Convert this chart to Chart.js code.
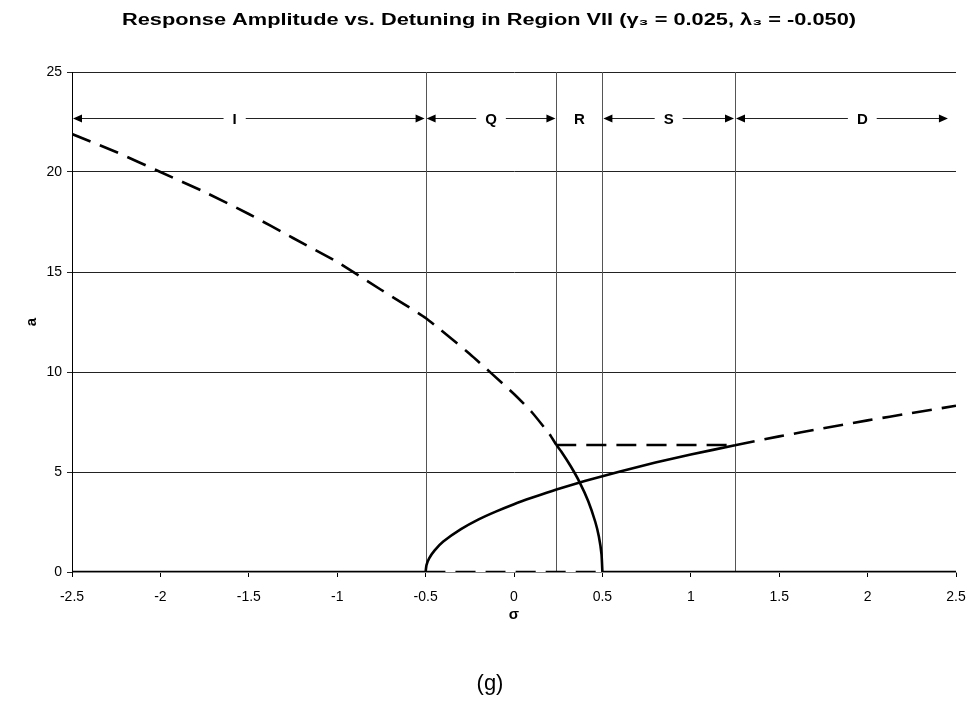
<!DOCTYPE html>
<html>
<head>
<meta charset="utf-8">
<script src="https://cdn.jsdelivr.net/npm/chart.js@4/dist/chart.umd.min.js"></script>
<style>
  html, body { margin: 0; padding: 0; background: #fff; }
  #wrap { width: 973px; height: 706px; }
</style>
</head>
<body>
<div id="wrap"><canvas id="chart"></canvas></div>
<script>
// --- Daten ---
// instabiler oberer Ast (gestrichelt)
const upperSigma = [-2.5, -2.25, -2.0, -1.75, -1.5, -1.25, -1.0, -0.75, -0.5, -0.25, 0, 0.1, 0.2, 0.24];
const upperA     = [21.9, 21.0, 20.0, 19.0, 17.9, 16.7, 15.5, 14.1, 12.7, 10.9, 8.9, 8.0, 6.9, 6.35];

// stabiler Ast ab sigma = -0.5 (durchgezogen)
const riseSigma = [-0.5, -0.495, -0.48, -0.45, -0.4, -0.3, -0.2, -0.1, 0, 0.1, 0.24, 0.4, 0.6, 0.8, 1.0, 1.25];
const riseA     = [0, 0.34, 0.68, 1.07, 1.52, 2.14, 2.63, 3.03, 3.39, 3.71, 4.13, 4.55, 5.03, 5.47, 5.87, 6.34];

// Fortsetzung rechts (gestrichelt)
const tailSigma = [1.25, 1.5, 1.75, 2.0, 2.25, 2.5];
const tailA     = [6.34, 6.78, 7.19, 7.58, 7.95, 8.31];

// abfallender Ast bis sigma = 0.5 (durchgezogen)
const fallSigma = [0.24, 0.27, 0.32, 0.37, 0.42, 0.46, 0.48, 0.495, 0.5];
const fallA     = [6.35, 5.99, 5.30, 4.51, 3.54, 2.5, 1.77, 0.88, 0];

// waagrechte Verbindung (gestrichelt)
const flatSigma = [0.24, 1.25];
const flatA     = [6.35, 6.35];

// triviale Loesung a = 0
const zeroLeftSigma  = [-2.5, -0.5];
const zeroMidSigma   = [-0.5, 0.5];
const zeroRightSigma = [0.5, 2.5];
const zeroA          = [0, 0];

// Bereiche oben
const regionBounds = [-2.5, -0.5, 0.24, 0.5, 1.25, 2.46];
const regionLines  = [-0.5, 0.24, 0.5, 1.25];
const regionNames  = ['I', 'Q', 'R', 'S', 'D'];
const regionLabelX = [-1.58, -0.13, 0.37, 0.875, 1.97];
const regionArrows = [true, true, false, true, true];
const regionLevel  = 22.7;

const xTicks = [-2.5, -2, -1.5, -1, -0.5, 0, 0.5, 1, 1.5, 2, 2.5];
const yTicks = [0, 5, 10, 15, 20, 25];

const titleText = 'Response Amplitude vs. Detuning in Region VII (\u03b3\u2083 = 0.025, \u03bb\u2083 = -0.050)';
const figLabel = '(g)';

const FONT = "'Liberation Sans', Arial, sans-serif";

function pts(xs, ys) {
    return xs.map((x, i) => ({ x: x, y: ys[i] }));
}

function line(xs, ys, dashed) {
    return {
        data: pts(xs, ys),
        showLine: true,
        borderColor: '#000',
        borderWidth: 2.6,
        borderDash: dashed ? [20, 10] : [],
        pointRadius: 0,
        tension: 0.15,
        fill: false
    };
}

// --- Bereichslinien, Pfeile, Titel ---
const regionPlugin = {
    id: 'regions',
    beforeDatasetsDraw(chart) {
        const { ctx, chartArea, scales } = chart;
        ctx.save();
        ctx.strokeStyle = '#555';
        ctx.lineWidth = 1;
        regionLines.forEach(v => {
            const x = Math.round(scales.x.getPixelForValue(v)) + 0.5;
            ctx.beginPath();
            ctx.moveTo(x, chartArea.top);
            ctx.lineTo(x, chartArea.bottom);
            ctx.stroke();
        });
        ctx.restore();
    },
    afterDatasetsDraw(chart) {
        const { ctx, scales } = chart;
        const y = Math.round(scales.y.getPixelForValue(regionLevel)) + 0.5;
        ctx.save();
        ctx.font = 'bold 15px ' + FONT;
        ctx.textAlign = 'center';
        ctx.textBaseline = 'middle';
        ctx.fillStyle = '#000';
        ctx.strokeStyle = '#222';
        ctx.lineWidth = 1;
        for (let i = 0; i < regionNames.length; i++) {
            const x0 = scales.x.getPixelForValue(regionBounds[i]);
            const x1 = scales.x.getPixelForValue(regionBounds[i + 1]);
            const xm = scales.x.getPixelForValue(regionLabelX[i]);
            ctx.fillText(regionNames[i], xm, y + 1);
            if (!regionArrows[i]) continue;
            const gap = ctx.measureText(regionNames[i]).width / 2 + 9;
            ctx.beginPath();
            ctx.moveTo(x0 + 8, y); ctx.lineTo(xm - gap, y);
            ctx.moveTo(xm + gap, y); ctx.lineTo(x1 - 8, y);
            ctx.stroke();
            // Pfeilspitzen
            ctx.beginPath();
            ctx.moveTo(x0 + 1, y); ctx.lineTo(x0 + 10, y - 4); ctx.lineTo(x0 + 10, y + 4); ctx.closePath();
            ctx.moveTo(x1 - 1, y); ctx.lineTo(x1 - 10, y - 4); ctx.lineTo(x1 - 10, y + 4); ctx.closePath();
            ctx.fill();
        }
        ctx.restore();
    },
    afterDraw(chart) {
        const { ctx } = chart;
        ctx.save();
        ctx.fillStyle = '#000';
        ctx.textAlign = 'center';
        ctx.textBaseline = 'middle';
        // Titel (im Original breit gezogen)
        ctx.font = 'bold 16px ' + FONT;
        const w = ctx.measureText(titleText).width;
        ctx.translate(489, 21);
        ctx.scale(734 / w, 1);
        ctx.fillText(titleText, 0, 0);
        ctx.restore();
        ctx.save();
        ctx.fillStyle = '#000';
        ctx.textAlign = 'center';
        ctx.textBaseline = 'middle';
        ctx.font = '22px ' + FONT;
        ctx.fillText(figLabel, 490, 684);
        ctx.restore();
    }
};

new Chart(document.getElementById('chart'), {
    type: 'scatter',
    data: {
        datasets: [
            line(zeroLeftSigma, zeroA, false),
            line(zeroMidSigma, zeroA, true),
            line(zeroRightSigma, zeroA, false),
            line(upperSigma, upperA, true),
            line(riseSigma, riseA, false),
            line(tailSigma, tailA, true),
            line(fallSigma, fallA, false),
            line(flatSigma, flatA, true)
        ]
    },
    options: {
        responsive: true,
        maintainAspectRatio: false,
        animation: false,
        layout: { padding: { left: 0, right: 17, top: 72, bottom: 0 } },
        plugins: {
            legend: { display: false },
            tooltip: { enabled: false },
            title: { display: false }
        },
        scales: {
            x: {
                type: 'linear',
                min: -2.5,
                max: 2.5,
                afterBuildTicks: (s) => { s.ticks = xTicks.map(v => ({ value: v })); },
                afterFit: (s) => { s.height = 134; s.paddingLeft = 0; s.paddingRight = 0; },
                ticks: { color: '#000', font: { family: FONT, size: 14 }, padding: 12, maxRotation: 0,
                         callback: (v) => String(v) },
                grid: { drawOnChartArea: false, color: '#000', tickLength: 5 },
                border: { color: '#888', width: 1 },
                title: {
                    display: true, text: '\u03c3', color: '#000',
                    font: { family: FONT, size: 15, weight: 'bold' },
                    padding: { top: 4, bottom: 82 }
                }
            },
            y: {
                type: 'linear',
                min: 0,
                max: 25,
                afterBuildTicks: (s) => { s.ticks = yTicks.map(v => ({ value: v })); },
                afterFit: (s) => { s.width = 72; },
                ticks: { color: '#000', font: { family: FONT, size: 14 }, padding: 5,
                         callback: (v) => String(v) },
                grid: { color: '#222', lineWidth: 1, tickLength: 5 },
                border: { color: '#000', width: 1 },
                title: {
                    display: true, text: 'a', color: '#000',
                    font: { family: FONT, size: 15, weight: 'bold' },
                    padding: { top: 23, bottom: 0 }
                }
            }
        }
    },
    plugins: [regionPlugin]
});
</script>
</body>
</html>
